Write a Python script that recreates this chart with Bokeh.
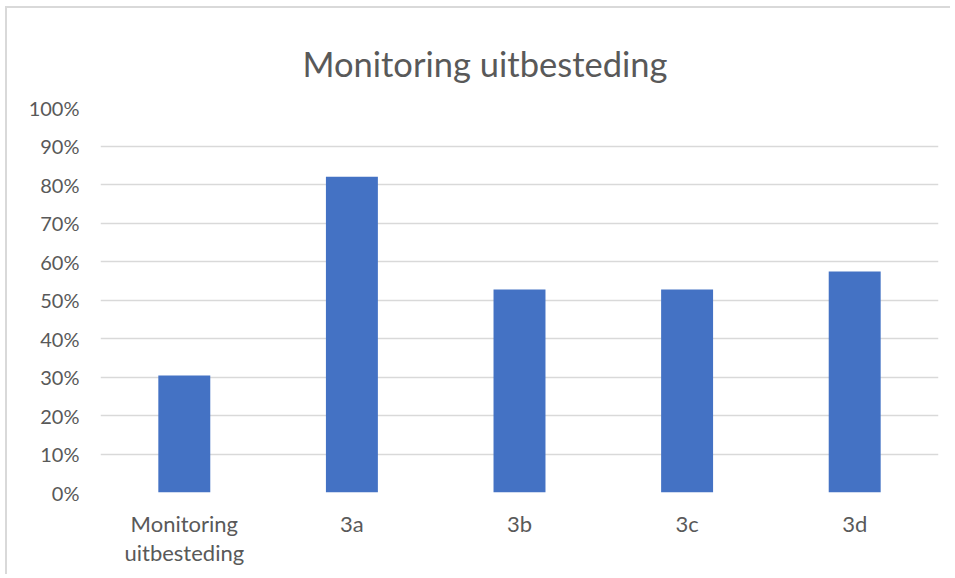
from bokeh.plotting import figure
from bokeh.models import ColumnDataSource, NumeralTickFormatter, FixedTicker, Range1d, Title
from bokeh.embed import file_html
from bokeh.resources import INLINE

categories = ["Monitoring\nuitbesteding", "3a", "3b", "3c", "3d"]
values = [0.304, 0.82, 0.527, 0.527, 0.574]
y_ticks = [0, 0.1, 0.2, 0.3, 0.4, 0.5, 0.6, 0.7, 0.8, 0.9, 1.0]

FONT = "Lato"
TXT = "#595959"

src = ColumnDataSource(data=dict(cat=categories, val=values))

p = figure(x_range=categories, y_range=Range1d(0, 1), width=945, height=568,
           output_backend="svg", toolbar_location=None,
           min_border_left=93, min_border_right=14, min_border_top=99, min_border_bottom=84)

p.vbar(x="cat", top="val", width=0.31, source=src, fill_color="#4472C4", line_color=None)

t = Title(text="Monitoring uitbesteding", align="left", text_font=FONT,
          text_font_size="34.5px", text_font_style="normal", text_color=TXT,
          offset=202, standoff=48)
p.add_layout(t, "above")

p.yaxis.ticker = FixedTicker(ticks=y_ticks)
p.yaxis.formatter = NumeralTickFormatter(format="0%")
for ax in (p.xaxis[0], p.yaxis[0]):
    ax.axis_line_color = None
    ax.major_tick_line_color = None
    ax.minor_tick_line_color = None
    ax.major_label_text_font = FONT
    ax.major_label_text_color = TXT
p.yaxis.major_label_text_font_size = "20px"
p.xaxis.major_label_text_font_size = "22px"
p.xaxis.major_label_text_line_height = 1.1
p.yaxis.major_label_standoff = 15
p.xaxis.major_label_standoff = 11

p.xgrid.grid_line_color = None
p.ygrid.grid_line_color = "#d9d9d9"
p.ygrid.grid_line_width = 1.5
p.outline_line_color = None
p.background_fill_color = "white"
p.border_fill_color = "white"
p.styles = {"margin-left": "5px", "margin-top": "6px",
            "border-left": "2px solid #d9d9d9", "border-top": "2px solid #d9d9d9"}

open("out.html", "w").write(file_html(p, INLINE))
